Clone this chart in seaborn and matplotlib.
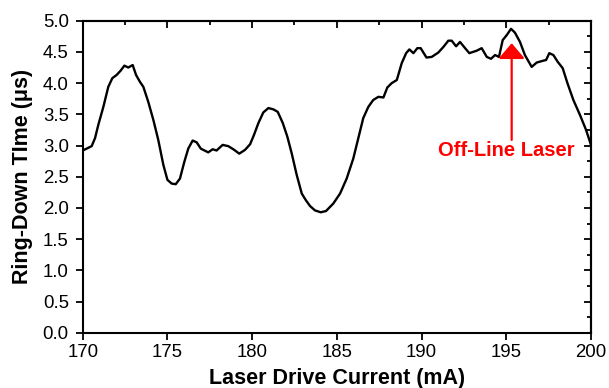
import numpy as np
import pandas as pd
import matplotlib
matplotlib.use("Agg")
import matplotlib.pyplot as plt
import seaborn as sns
from matplotlib.ticker import MultipleLocator

current_mA = [170.0, 170.23, 170.53, 170.73, 170.92, 171.22, 171.51, 171.75, 172.0, 172.24,
              172.46, 172.69, 172.95, 173.15, 173.38, 173.58, 173.87, 174.17, 174.46, 174.76,
              175.0, 175.25, 175.49, 175.74, 176.0, 176.23, 176.49, 176.73, 176.97, 177.41,
              177.67, 177.9, 178.26, 178.59, 178.89, 179.24, 179.58, 179.88, 180.11, 180.37,
              180.66, 180.96, 181.25, 181.51, 181.81, 182.08, 182.34, 182.63, 182.93, 183.18,
              183.42, 183.71, 184.05, 184.36, 184.79, 185.19, 185.58, 185.97, 186.27, 186.56,
              186.86, 187.15, 187.45, 187.75, 187.98, 188.24, 188.54, 188.83, 189.09, 189.28,
              189.52, 189.75, 189.95, 190.29, 190.6, 190.99, 191.29, 191.58, 191.78, 192.04,
              192.27, 192.57, 192.82, 193.26, 193.55, 193.85, 194.1, 194.34, 194.57, 194.79,
              195.03, 195.28, 195.51, 195.81, 196.1, 196.5, 196.8, 197.19, 197.35, 197.54,
              197.78, 198.04, 198.33, 198.61, 198.96, 199.35, 199.71, 200.0]
ringdown_us = [2.92, 2.95, 2.99, 3.12, 3.33, 3.62, 3.94, 4.08, 4.13, 4.2,
               4.28, 4.25, 4.29, 4.13, 4.02, 3.94, 3.7, 3.41, 3.09, 2.69,
               2.45, 2.39, 2.38, 2.47, 2.74, 2.95, 3.08, 3.05, 2.95, 2.89,
               2.94, 2.92, 3.01, 2.99, 2.94, 2.87, 2.93, 3.02, 3.17, 3.36,
               3.53, 3.6, 3.58, 3.54, 3.36, 3.14, 2.87, 2.53, 2.23, 2.12,
               2.03, 1.96, 1.93, 1.95, 2.07, 2.23, 2.47, 2.79, 3.12, 3.44,
               3.62, 3.73, 3.78, 3.77, 3.93, 4.0, 4.05, 4.32, 4.48, 4.54,
               4.48, 4.56, 4.56, 4.41, 4.42, 4.49, 4.58, 4.68, 4.68, 4.59,
               4.66, 4.56, 4.48, 4.52, 4.56, 4.42, 4.39, 4.45, 4.42, 4.69,
               4.77, 4.87, 4.81, 4.66, 4.45, 4.26, 4.33, 4.36, 4.37, 4.48,
               4.45, 4.34, 4.24, 4.0, 3.73, 3.49, 3.25, 3.01]

x_ticks = [170, 175, 180, 185, 190, 195, 200]
y_ticks = [0.0, 0.5, 1.0, 1.5, 2.0, 2.5, 3.0, 3.5, 4.0, 4.5, 5.0]
annotation_text = "Off-Line Laser"
arrow_x = 195.32
arrow_tip = 4.64
arrow_tail = 3.09
text_x = 195.0
text_y = 2.92

sns.set_style("white")
plt.rcParams['font.family'] = ['Liberation Sans', 'DejaVu Sans']
plt.rcParams['text.color'] = 'black'
plt.rcParams['axes.labelcolor'] = 'black'
plt.rcParams['xtick.color'] = 'black'
plt.rcParams['ytick.color'] = 'black'
plt.rcParams['xtick.labelcolor'] = 'black'
plt.rcParams['ytick.labelcolor'] = 'black'

df = pd.DataFrame({"Current": current_mA, "RDT": ringdown_us})

fig = plt.figure(figsize=(6.09, 3.88), dpi=100)
ax = fig.add_axes([0.1358, 0.1425, 0.8346, 0.8041])

sns.lineplot(data=df, x="Current", y="RDT", ax=ax, color="black", linewidth=1.7,
             sort=False, estimator=None)

ax.set_xlim(170, 200)
ax.set_ylim(0, 5)
ax.set_xticks(x_ticks)
ax.set_yticks(y_ticks)
ax.set_yticklabels([f"{v:.1f}" for v in y_ticks])
ax.xaxis.set_minor_locator(MultipleLocator(2.5))
ax.yaxis.set_minor_locator(MultipleLocator(0.25))

for s in ax.spines.values():
    s.set_linewidth(1.5)
    s.set_color("black")

ax.tick_params(axis="x", which="major", direction="out", length=5, width=1.3,
               labelsize=13.4, pad=3, color="black", labelcolor="black")
ax.tick_params(axis="x", which="minor", direction="in", length=4, width=1.3, color="black")
ax.tick_params(axis="y", which="major", direction="out", length=5, width=1.3,
               labelsize=13.4, pad=5, color="black", labelcolor="black")
ax.tick_params(axis="y", which="minor", direction="out", length=3, width=1.3, color="black")
ax.tick_params(bottom=True, left=True)

top = ax.secondary_xaxis("top")
top.set_xticks(x_ticks)
top.xaxis.set_minor_locator(MultipleLocator(2.5))
top.tick_params(which="both", direction="in", labeltop=False, width=1.3, color="black")
top.tick_params(which="major", length=5)
top.tick_params(which="minor", length=3)
top.spines["top"].set_linewidth(1.5)

right = ax.secondary_yaxis("right")
right.set_yticks(y_ticks)
right.yaxis.set_minor_locator(MultipleLocator(0.25))
right.tick_params(which="both", direction="in", labelright=False, width=1.3, color="black")
right.tick_params(which="major", length=5)
right.tick_params(which="minor", length=3)
right.spines["right"].set_linewidth(1.5)

ax.set_xlabel("Laser Drive Current (mA)", fontsize=15.5, fontweight="bold", labelpad=5,
              color="black")
ax.set_ylabel("Ring-Down TIme (μs)", fontsize=15.5, fontweight="bold", labelpad=7,
              color="black")

ax.annotate("", xy=(arrow_x, arrow_tip), xytext=(arrow_x, arrow_tail),
            arrowprops=dict(arrowstyle="-|>,head_length=0.47,head_width=0.4",
                            mutation_scale=20, color="#ff0000", lw=1.6,
                            shrinkA=0, shrinkB=0))
ax.text(text_x, text_y, annotation_text, color="#ff0000", fontsize=14.5,
        fontweight="bold", ha="center", va="center")

fig.savefig("out.png", dpi=100)
